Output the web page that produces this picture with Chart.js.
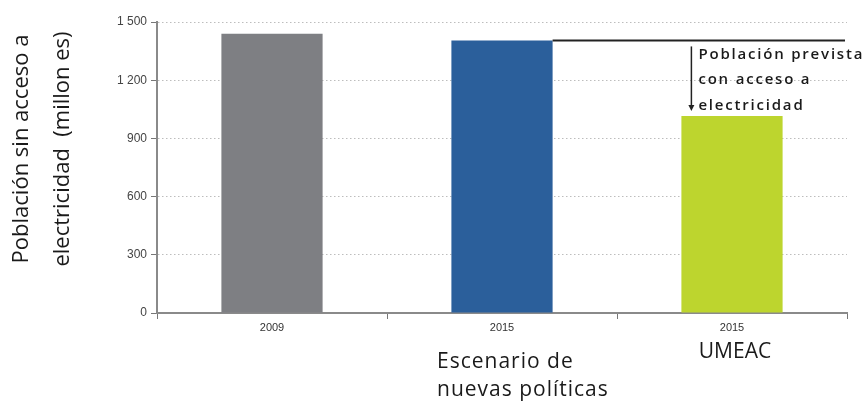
<!DOCTYPE html>
<html>
<head>
<meta charset="utf-8">
<script src="https://cdn.jsdelivr.net/npm/chart.js@4"></script>
<style>
    html, body { margin: 0; padding: 0; background: #fff; }
    #wrap { width: 867px; height: 405px; position: relative; }
</style>
</head>
<body>
<div id="wrap"><canvas id="chart"></canvas></div>
<script>
// Población sin acceso a electricidad (millones)
const years = ['2009', '2015', '2015'];
const scenarios = [[], ['Escenario de', 'nuevas políticas'], ['UMEAC']];
const population = [1440, 1405, 1015];
const barColors = ['#7e7f83', '#2b5f9b', '#bdd52e'];
const yTicks = [0, 300, 600, 900, 1200, 1500];
const yTitle = ['Población sin acceso a', 'electricidad  (millon es)'];
const noteLines = ['Población prevista', 'con acceso a', 'electricidad'];

const narrow = "'Liberation Sans Narrow', 'Liberation Sans', sans-serif";

// Draws the axis title, scenario names and the "prevista" annotation
const extrasPlugin = {
    id: 'extras',
    afterDraw(chart) {
        const ctx = chart.ctx;
        const x = chart.scales.x;
        const y = chart.scales.y;
        const meta = chart.getDatasetMeta(0);
        ctx.save();

        // rotated y axis title, two lines
        ctx.fillStyle = '#1a1a1a';
        ctx.font = "22px 'Open Sans', sans-serif";
        ctx.textAlign = 'center';
        ctx.textBaseline = 'middle';
        [22, 63].forEach((cx, i) => {
            ctx.save();
            ctx.translate(cx, 149);
            ctx.rotate(-Math.PI / 2);
            ctx.fillText(yTitle[i], 0, 0);
            ctx.restore();
        });

        // scenario names under the year labels
        ctx.font = "21px 'Open Sans', sans-serif";
        const b1 = meta.data[1];
        ctx.textAlign = 'left';
        ctx.letterSpacing = '1px';
        scenarios[1].forEach((line, i) => {
            ctx.fillText(line, b1.x - 65, 362 + i * 28);
        });
        ctx.letterSpacing = '0px';
        ctx.textAlign = 'center';
        scenarios[2].forEach((line, i) => {
            ctx.fillText(line, meta.data[2].x + 3, 352 + i * 28);
        });

        // level line from the 2015 bar and arrow down to the UMEAC bar
        const lvl = y.getPixelForValue(population[1]);
        const blue = meta.data[1];
        const green = meta.data[2];
        ctx.strokeStyle = '#222';
        ctx.lineWidth = 2;
        ctx.beginPath();
        ctx.moveTo(blue.x + blue.width / 2, lvl);
        ctx.lineTo(x.right - 2, lvl);
        ctx.stroke();

        const ax = green.x - green.width / 2 + 10;
        const aEnd = y.getPixelForValue(population[2]) - 5;
        ctx.lineWidth = 1.5;
        ctx.beginPath();
        ctx.moveTo(ax, lvl + 6);
        ctx.lineTo(ax, aEnd - 4);
        ctx.stroke();
        ctx.fillStyle = '#222';
        ctx.beginPath();
        ctx.moveTo(ax - 3, aEnd - 6);
        ctx.lineTo(ax + 3, aEnd - 6);
        ctx.lineTo(ax, aEnd);
        ctx.closePath();
        ctx.fill();

        ctx.fillStyle = '#1a1a1a';
        ctx.font = "600 15px 'Open Sans', sans-serif";
        ctx.letterSpacing = '1.8px';
        ctx.textAlign = 'left';
        noteLines.forEach((line, i) => {
            ctx.fillText(line, ax + 7, lvl + 14 + i * 25.5);
        });
        ctx.letterSpacing = '0px';

        ctx.restore();
    }
};

new Chart(document.getElementById('chart'), {
    type: 'bar',
    data: {
        labels: years,
        datasets: [{
            data: population,
            backgroundColor: barColors,
            categoryPercentage: 1,
            barPercentage: 0.44
        }]
    },
    options: {
        responsive: true,
        maintainAspectRatio: false,
        animation: false,
        layout: { padding: { top: 22, right: 20, bottom: 0, left: 0 } },
        plugins: {
            legend: { display: false },
            tooltip: { enabled: false }
        },
        scales: {
            y: {
                min: 0,
                max: 1500,
                afterFit: (s) => { s.width = 157; },
                afterBuildTicks: (s) => { s.ticks = yTicks.map((v) => ({ value: v })); },
                ticks: {
                    color: '#444',
                    padding: 4,
                    font: { family: narrow, size: 12 },
                    callback: (v) => String(v).replace(/\B(?=(\d{3})+(?!\d))/g, ' ')
                },
                grid: {
                    color: '#bdbdbd',
                    tickBorderDash: [],
                    tickColor: '#777',
                    tickLength: 6
                },
                border: { color: '#8a8a8a', width: 2, dash: [1.5, 2.5] }
            },
            x: {
                afterFit: (s) => { s.height = 92; },
                ticks: {
                    color: '#333',
                    padding: 2,
                    font: { family: narrow, size: 11 }
                },
                grid: {
                    offset: true,
                    drawOnChartArea: false,
                    tickColor: '#777',
                    tickLength: 6
                },
                border: { color: '#8a8a8a', width: 2 }
            }
        }
    },
    plugins: [extrasPlugin]
});
</script>
</body>
</html>
